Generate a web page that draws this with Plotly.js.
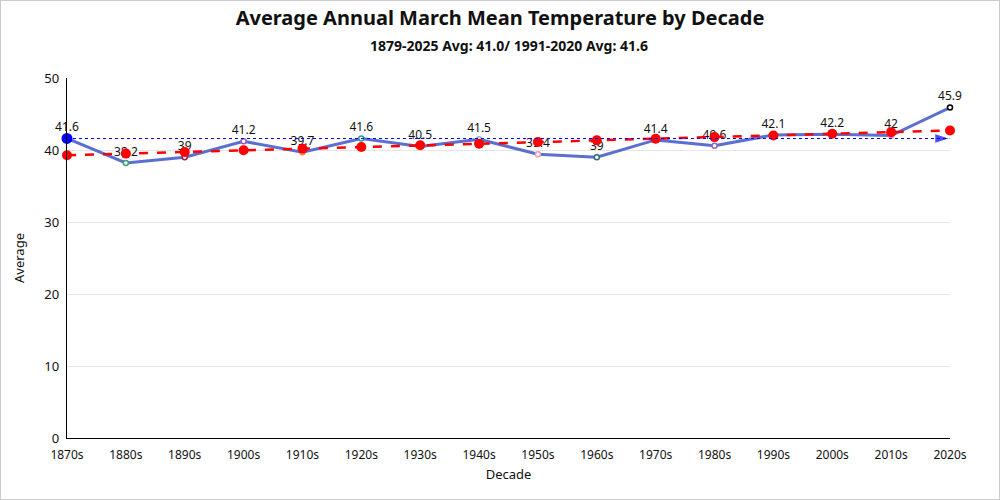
<!DOCTYPE html>
<html><head><meta charset="utf-8">
<script src="https://cdn.plot.ly/plotly-3.0.1.min.js"></script>
<style>html,body{margin:0;padding:0;background:#fff}#chart{width:998px;height:498px;border:1px solid #ccc}</style>
</head><body><div id="chart"></div>
<script>
const decades = ["1870s","1880s","1890s","1900s","1910s","1920s","1930s","1940s","1950s","1960s","1970s","1980s","1990s","2000s","2010s","2020s"];
const averages = [41.6,38.2,39,41.2,39.7,41.6,40.5,41.5,39.4,39,41.4,40.6,42.1,42.2,42,45.9];
const trend = [39.27,39.50,39.73,39.96,40.19,40.42,40.65,40.88,41.11,41.34,41.57,41.79,42.02,42.25,42.48,42.71];
const normalDecades = ["1870s","2020s"];
const normalValues = [41.6,41.6];
const pointColors = ["#5470c6","#3ba272","#a0214a","#9a60b4","#fc8452","#2f9a9a","#7d7d7d","#73c0de","#e8a0b0","#2e6d6d","#d48265","#8a6cc0","#5470c6","#91cc75","#ea7ccc","#000000"];

const traces = [
  {x: decades, y: averages, type:'scatter', mode:'lines+markers+text',
   line:{color:'#5a6fcf', width:3},
   marker:{size:5, color:'#ffffff', line:{color:pointColors, width:1.5}},
   text: averages.map(String), textposition:'top center',
   textfont:{family:'Noto Sans, sans-serif', size:12, color:'#111'},
   cliponaxis:false},
  {x: decades, y: trend, type:'scatter', mode:'lines+markers',
   line:{color:'#ff0000', width:2.5, dash:'dash'},
   marker:{size:10, color:'#ff0000'}, cliponaxis:false},
  {x: normalDecades, y: normalValues, type:'scatter', mode:'lines',
   line:{color:'#0000ff', width:1.2, dash:'dot'}, cliponaxis:false},
  {x: [normalDecades[0]], y: [normalValues[0]], type:'scatter', mode:'markers',
   marker:{size:11, color:'#0000ff'}, cliponaxis:false},
  {x: normalDecades, y: normalValues, type:'scatter', mode:'markers',
   marker:{size:[0,16], color:'#0000ff', symbol:'arrow', angleref:'previous'}, cliponaxis:false}
];
const layout = {
  width:998, height:498,
  margin:{l:66, r:49, t:77, b:61},
  paper_bgcolor:'#fff', plot_bgcolor:'#fff',
  showlegend:false,
  font:{family:'Noto Sans, sans-serif', size:12, color:'#111'},
  title:{text:'<b>Average Annual March Mean Temperature by Decade</b>',
    x:0.5, xanchor:'center', y:0.966, yanchor:'middle', font:{size:20, color:'#111', family:'Noto Sans, sans-serif'}},
  annotations:[{text:'<b>1879-2025 Avg: 41.0/ 1991-2020 Avg: 41.6</b>', xref:'paper', yref:'paper',
    x:0.5, y:1.089, xanchor:'center', yanchor:'middle', showarrow:false, font:{size:14, color:'#111'}}],
  xaxis:{type:'category', range:[0,15], showgrid:false, zeroline:false,
    showline:true, linecolor:'#000', linewidth:1.2, ticks:'', ticklabelstandoff:5,
    tickfont:{size:12}, title:{text:'Decade', font:{size:13}, standoff:8}},
  yaxis:{range:[0,50], dtick:10, showgrid:true, gridcolor:'#e6e6e6', zeroline:false,
    showline:true, linecolor:'#000', linewidth:1.2, ticks:'', ticklabelstandoff:4,
    tickfont:{size:13}, title:{text:'Average', font:{size:13}, standoff:16}}
};
Plotly.newPlot('chart', traces, layout, {displayModeBar:false, staticPlot:true});
</script></body></html>
